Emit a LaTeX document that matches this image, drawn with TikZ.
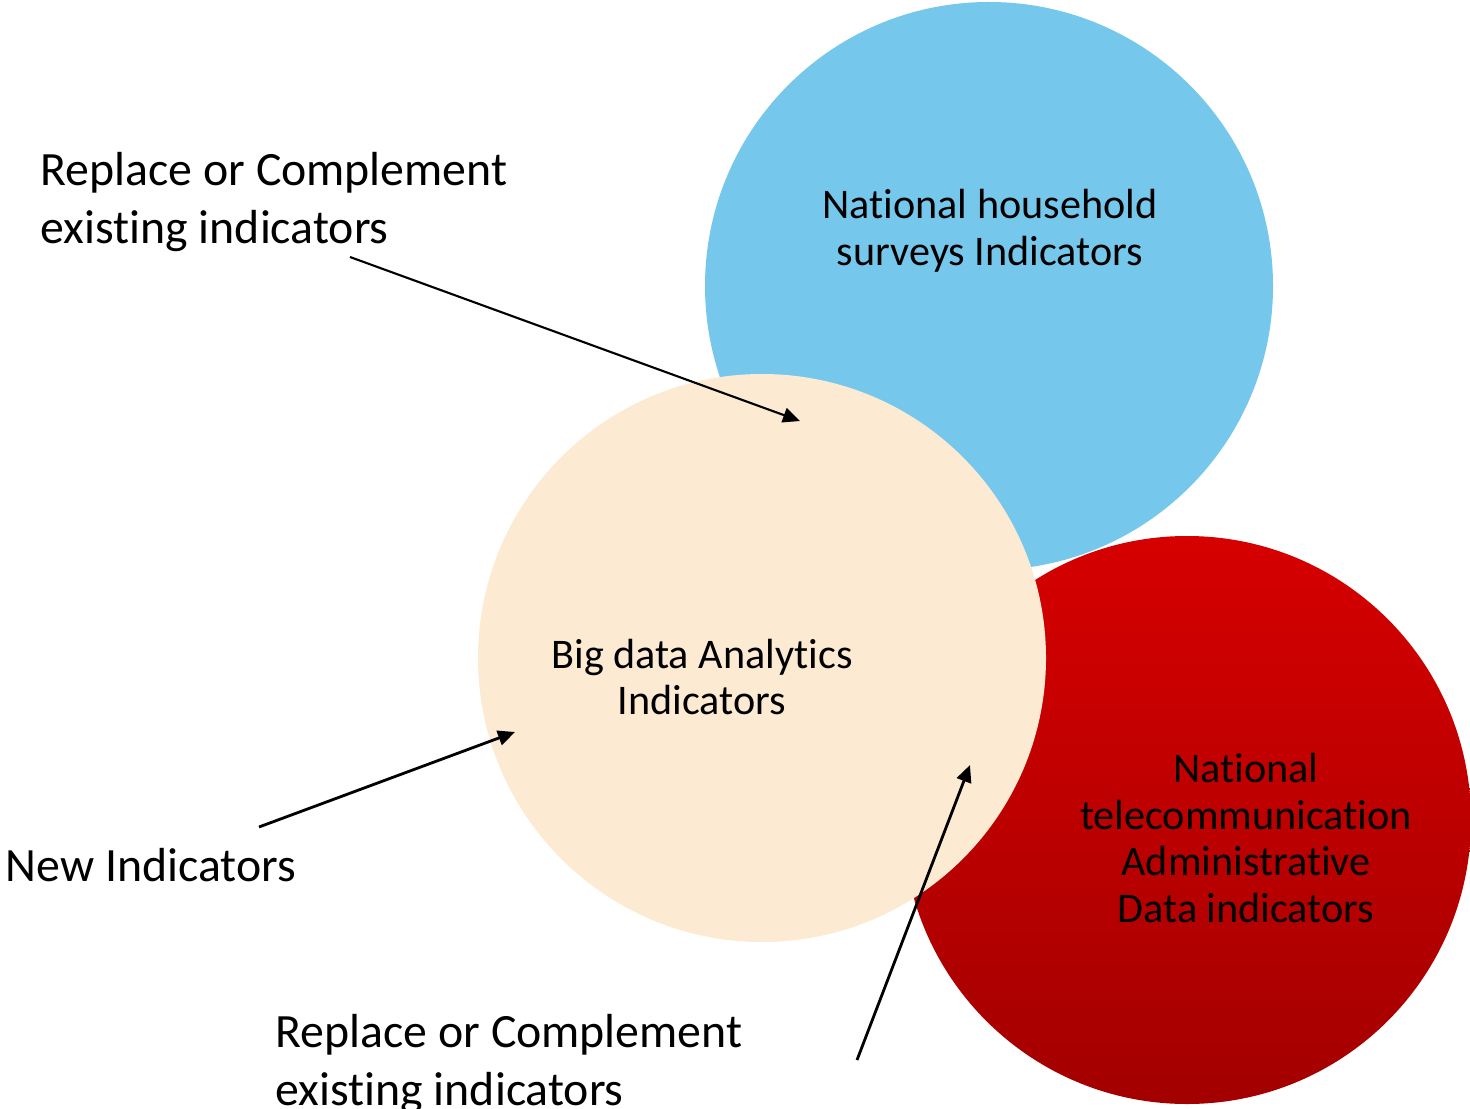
\documentclass[tikz,border=0pt]{standalone}
\usepackage{fontspec}
\setmainfont[Ligatures=NoCommon]{Carlito}
\usetikzlibrary{arrows.meta}
\definecolor{skyfill}{HTML}{75C7EB}
\definecolor{sandfill}{HTML}{FDEAD2}
\definecolor{redtop}{HTML}{D60000}
\definecolor{redbottom}{HTML}{A30000}
\newcommand{\insidesize}{\fontsize{12}{13.3}\selectfont}
\newcommand{\outsidesize}{\fontsize{13.6}{16.6}\selectfont}
\tikzset{
 every node/.append style={text=black,inner sep=0pt},
 disc/.style={circle,minimum size=56.8mm,draw=none},
 survey/.style={disc,fill=skyfill},
 bigdata/.style={disc,fill=sandfill},
 telecom/.style={disc,top color=redtop,bottom color=redbottom},
 inside/.style={font=\insidesize,align=center},
 tag/.style={font=\outsidesize,align=left,anchor=west},
 pointer/.style={-{Triangle[length=1.7mm,width=1.5mm]},draw=black,line width=.8pt},
}

\begin{document}
\begin{tikzpicture}

\useasboundingbox (0,0) rectangle (14.7,-11.09);
\node[survey] (house) at (9.89,-2.86) {};
\node[telecom] (admin) at (11.87,-8.20) {};
\node[bigdata] (analytics) at (7.62,-6.58) {};
\node[inside] (housetext) at (9.90,-2.31) {National household\\surveys Indicators};
\node[inside] (analyticstext) at (7.02,-6.77) {Big data Analytics\\Indicators};
\node[inside] (admintext) at (12.46,-8.38) {National\\telecommunication\\Administrative\\Data indicators};
\node[tag] (replacetop) at (0.40,-2.02) {Replace or Complement\\existing indicators};
\node[tag] (newind) at (0.05,-8.65) {New Indicators};
\node[tag] (replacebot) at (2.75,-10.64) {Replace or Complement\\existing indicators};
\coordinate (fromtop) at (3.50,-2.57); \coordinate (totop) at (8.00,-4.21);
\coordinate (fromnew) at (2.59,-8.27); \coordinate (tonew) at (5.15,-7.32);
\coordinate (frombot) at (8.57,-10.60); \coordinate (tobot) at (9.70,-7.65);
\draw[pointer,line width=.6pt] (fromtop) -- (totop);
\draw[pointer] (fromnew) -- (tonew);
\draw[pointer] (frombot) -- (tobot);

\end{tikzpicture}
\end{document}
